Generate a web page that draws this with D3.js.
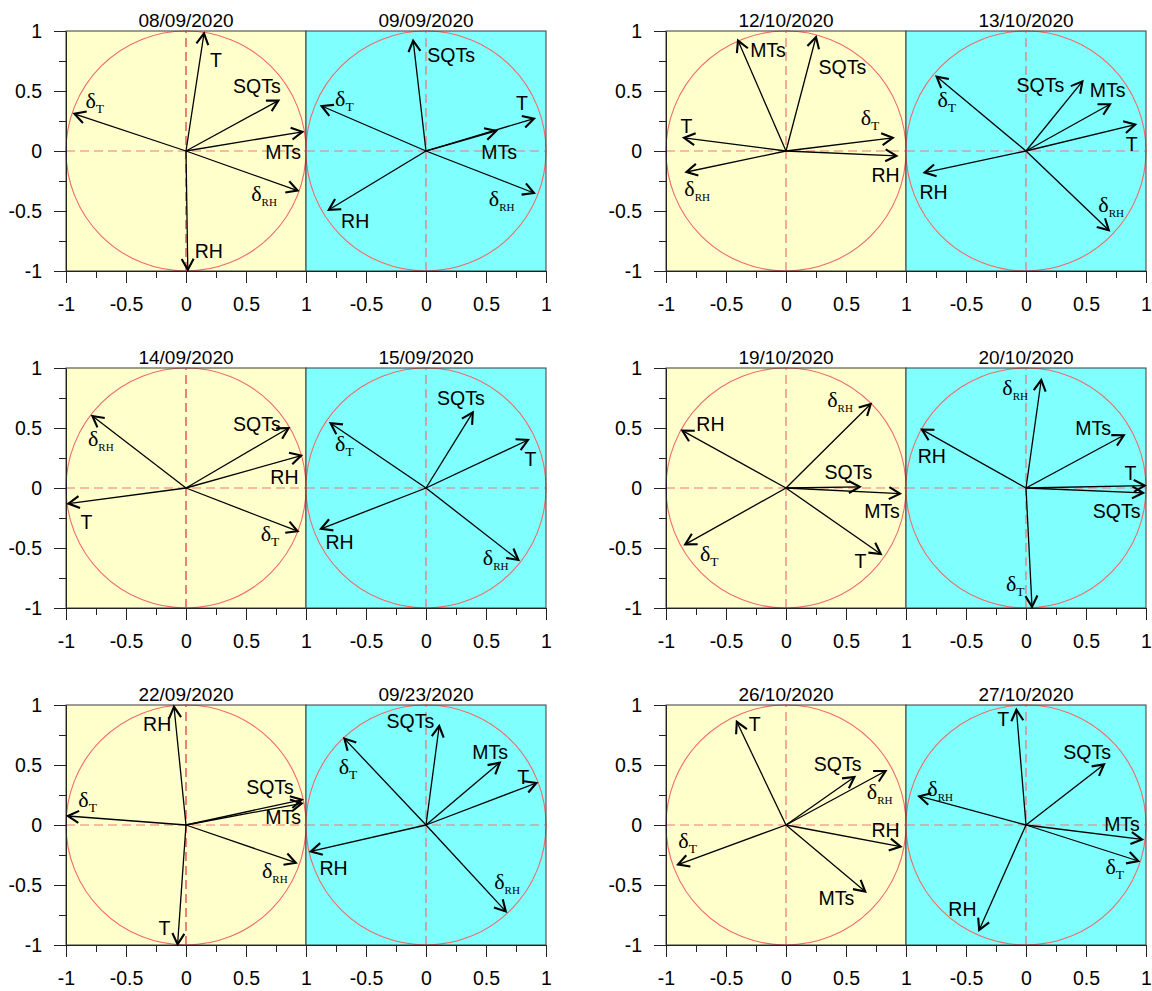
<!DOCTYPE html>
<html><head><meta charset="utf-8">
<script src="https://cdn.jsdelivr.net/npm/d3@7"></script>
<style>body{margin:0;background:#fff}</style>
</head><body><svg id="c" width="1152" height="991"></svg>
<script>
// ---- data ----
const dates = ["08/09/2020","09/09/2020","12/10/2020","13/10/2020",
               "14/09/2020","15/09/2020","19/10/2020","20/10/2020",
               "22/09/2020","09/23/2020","26/10/2020","27/10/2020"];
const xTicks = [-1,-0.5,0,0.5,1];
const yTicks = [-1,-0.5,0,0.5,1];
const minorTicks = [-0.75,-0.25,0.25,0.75];

// loadings: [variable, x, y]
const p0809 = [["T",0.15,0.98],["SQTs",0.77,0.42],["MTs",0.97,0.16],["δRH",0.93,-0.33],["RH",0.015,-0.99],["δT",-0.93,0.31]];
const p0909 = [["SQTs",-0.107,0.92],["δT",-0.87,0.375],["T",0.90,0.27],["MTs",0.585,0.167],["δRH",0.90,-0.35],["RH",-0.81,-0.49]];
const p1210 = [["MTs",-0.40,0.92],["SQTs",0.25,0.95],["δT",0.89,0.11],["T",-0.85,0.11],["RH",0.92,-0.04],["δRH",-0.83,-0.175]];
const p1310 = [["δT",-0.745,0.62],["SQTs",0.47,0.58],["MTs",0.70,0.39],["T",0.91,0.22],["RH",-0.845,-0.18],["δRH",0.69,-0.66]];
const p1409 = [["δRH",-0.78,0.60],["SQTs",0.855,0.50],["RH",0.96,0.27],["T",-0.98,-0.13],["δT",0.93,-0.36]];
const p1509 = [["SQTs",0.39,0.63],["δT",-0.795,0.54],["T",0.85,0.40],["RH",-0.875,-0.34],["δRH",0.77,-0.60]];
const p1910 = [["RH",-0.864,0.478],["δRH",0.706,0.70],["SQTs",0.615,0.01],["MTs",0.95,-0.047],["T",0.79,-0.55],["δT",-0.84,-0.47]];
const p2010 = [["δRH",0.127,0.90],["MTs",0.815,0.44],["RH",-0.867,0.486],["T",0.99,0.02],["SQTs",0.976,-0.04],["δT",0.05,-0.99]];
const p2209 = [["RH",-0.10,0.985],["SQTs",0.965,0.21],["MTs",0.965,0.18],["δT",-0.985,0.075],["δRH",0.915,-0.314],["T",-0.07,-0.995]];
const p2309 = [["SQTs",0.11,0.825],["δT",-0.68,0.72],["MTs",0.615,0.52],["T",0.92,0.35],["RH",-0.96,-0.22],["δRH",0.665,-0.72]];
const p2610 = [["T",-0.41,0.86],["SQTs",0.57,0.40],["δRH",0.83,0.45],["RH",0.955,-0.18],["MTs",0.66,-0.555],["δT",-0.90,-0.33]];
const p2710 = [["T",-0.08,0.96],["SQTs",0.65,0.505],["δRH",-0.89,0.24],["MTs",0.967,-0.12],["δT",0.936,-0.30],["RH",-0.39,-0.875]];
const loadings = [p0809,p0909,p1210,p1310,p1409,p1509,p1910,p2010,p2209,p2309,p2610,p2710];

// label anchor positions (data units), same order as loadings
const l0809 = [[0.25,0.76],[0.59,0.54],[0.81,-0.01],[0.65,-0.375],[0.19,-0.83],[-0.76,0.40]];
const l0909 = [[0.21,0.80],[-0.68,0.42],[0.80,0.40],[0.61,-0.01],[0.63,-0.42],[-0.59,-0.58]];
const l1210 = [[-0.15,0.84],[0.47,0.70],[0.70,0.26],[-0.83,0.21],[0.83,-0.20],[-0.74,-0.33]];
const l1310 = [[-0.66,0.41],[0.12,0.55],[0.68,0.51],[0.88,0.06],[-0.77,-0.34],[0.71,-0.47]];
const l1409 = [[-0.71,0.39],[0.59,0.53],[0.82,0.09],[-0.83,-0.28],[0.70,-0.40]];
const l1509 = [[0.29,0.75],[-0.68,0.35],[0.87,0.24],[-0.72,-0.45],[0.58,-0.60]];
const l1910 = [[-0.63,0.53],[0.45,0.72],[0.52,0.13],[0.80,-0.19],[0.62,-0.61],[-0.64,-0.57]];
const l2010 = [[-0.09,0.82],[0.56,0.50],[-0.785,0.27],[0.87,0.125],[0.755,-0.19],[-0.09,-0.82]];
const l2209 = [[-0.24,0.84],[0.70,0.32],[0.81,0.07],[-0.82,0.19],[0.74,-0.40],[-0.18,-0.855]];
const l2309 = [[-0.13,0.87],[-0.65,0.47],[0.535,0.61],[0.81,0.40],[-0.77,-0.36],[0.675,-0.49]];
const l2610 = [[-0.26,0.84],[0.43,0.51],[0.78,0.26],[0.83,-0.04],[0.42,-0.61],[-0.82,-0.15]];
const l2710 = [[-0.19,0.88],[0.51,0.61],[-0.715,0.28],[0.80,0.01],[0.74,-0.37],[-0.53,-0.70]];
const labelPos = [l0809,l0909,l1210,l1310,l1409,l1509,l1910,l2010,l2209,l2309,l2610,l2710];

// ---- layout ----
const svg = d3.select("#c");
const colX = [66, 666];
const rowY = [31, 368, 705];
const PW = 240, PH = 240;
const bg = ["#ffffcc", "#80ffff"];
const SANS = "'Liberation Sans', Arial, sans-serif";
const SERIF = "'Liberation Serif', 'Times New Roman', serif";
const FS = 19.5;

loadings.forEach((pts, i) => {
  const row = Math.floor(i / 4), pc = Math.floor((i % 4) / 2), side = i % 2;
  const x0 = colX[pc] + side * PW, y0 = rowY[row];
  const x = d3.scaleLinear().domain([-1, 1]).range([x0, x0 + PW]);
  const y = d3.scaleLinear().domain([-1, 1]).range([y0 + PH, y0]);
  const g = svg.append("g");

  g.append("rect").attr("x", x0).attr("y", y0).attr("width", PW).attr("height", PH)
    .attr("fill", bg[side]);

  // circle
  g.append("circle").attr("cx", x(0)).attr("cy", y(0)).attr("r", x(1) - x(0))
    .attr("fill", "none").attr("stroke", "#f06a6a").attr("stroke-width", 1.1);
  // dashed axes
  g.append("line").attr("x1", x(-1)).attr("x2", x(1)).attr("y1", y(0)).attr("y2", y(0))
    .attr("stroke", "#f07878").attr("stroke-width", 1.2).attr("stroke-dasharray", "9,5");
  g.append("line").attr("x1", x(0)).attr("x2", x(0)).attr("y1", y(-1)).attr("y2", y(1))
    .attr("stroke", "#f07070").attr("stroke-width", side === 0 && pc === 0 ? 1.8 : 1.2)
    .attr("stroke-dasharray", "9,5");

  g.append("rect").attr("x", x0).attr("y", y0).attr("width", PW).attr("height", PH)
    .attr("fill", "none").attr("stroke", "#3a3a3a").attr("stroke-width", 1);

  // title
  g.append("text").attr("x", x(0)).attr("y", y0 - 4).attr("text-anchor", "middle")
    .attr("font-family", SANS).attr("font-size", 19).attr("fill", "#000").text(dates[i]);

  // x axis
  const xa = g.append("g").attr("transform", `translate(0,${y0 + PH})`)
    .call(d3.axisBottom(x).tickValues(side === 0 ? xTicks : xTicks.slice(1))
      .tickSize(12).tickSizeOuter(0).tickFormat(d => d3.format("")(d).replace("−", "-")));
  xa.select(".domain").attr("stroke", "#222");
  xa.selectAll(".tick line").attr("stroke", "#222");
  xa.selectAll(".tick text").attr("font-family", SANS).attr("font-size", FS).attr("fill", "#000")
    .attr("dy", "0").attr("y", 40);
  const xm = g.append("g").attr("transform", `translate(0,${y0 + PH})`)
    .call(d3.axisBottom(x).tickValues(minorTicks).tickSize(7).tickSizeOuter(0).tickFormat(""));
  xm.select(".domain").remove();
  xm.selectAll(".tick line").attr("stroke", "#222");

  // y axis (left panels only)
  if (side === 0) {
    const ya = g.append("g").attr("transform", `translate(${x0},0)`)
      .call(d3.axisLeft(y).tickValues(yTicks).tickSize(12).tickSizeOuter(0)
        .tickFormat(d => d3.format("")(d).replace("−", "-")));
    ya.select(".domain").attr("stroke", "#222");
    ya.selectAll(".tick line").attr("stroke", "#222");
    ya.selectAll(".tick text").attr("font-family", SANS).attr("font-size", FS).attr("fill", "#000").attr("x", -24);
    const ym = g.append("g").attr("transform", `translate(${x0},0)`)
      .call(d3.axisLeft(y).tickValues(minorTicks).tickSize(7).tickSizeOuter(0).tickFormat(""));
    ym.select(".domain").remove();
    ym.selectAll(".tick line").attr("stroke", "#222");
  }

  // arrows
  const ox = x(0), oy = y(0);
  pts.forEach((p, k) => {
    const tx = x(p[1]), ty = y(p[2]);
    g.append("line").attr("x1", ox).attr("y1", oy).attr("x2", tx).attr("y2", ty)
      .attr("stroke", "#000").attr("stroke-width", 1.3);
    const a = Math.atan2(ty - oy, tx - ox), L = 12.5, h = 0.5;
    const ax1 = tx - L * Math.cos(a - h), ay1 = ty - L * Math.sin(a - h);
    const ax2 = tx - L * Math.cos(a + h), ay2 = ty - L * Math.sin(a + h);
    g.append("path").attr("d", `M${ax1},${ay1}L${tx},${ty}L${ax2},${ay2}`)
      .attr("fill", "none").attr("stroke", "#000").attr("stroke-width", 2.1)
      .attr("stroke-linejoin", "miter");

    const lp = labelPos[i][k];
    const lx = x(lp[0]), ly = y(lp[1]);
    const name = p[0];
    if (name.startsWith("δ")) {
      const t = g.append("text").attr("x", lx).attr("y", ly + 5).attr("text-anchor", "middle")
        .attr("font-family", SERIF).attr("fill", "#000");
      t.append("tspan").attr("font-size", 22).text("δ");
      t.append("tspan").attr("font-size", name === "δT" ? 13.5 : 11).attr("dy", 5).text(name.slice(1));
    } else {
      g.append("text").attr("x", lx).attr("y", ly + 7).attr("text-anchor", "middle")
        .attr("font-family", SANS).attr("font-size", FS).attr("fill", "#000").text(name);
    }
  });
});
</script></body></html>
